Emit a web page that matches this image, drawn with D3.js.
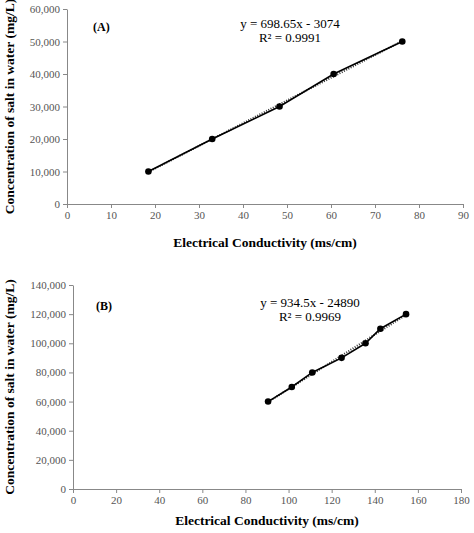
<!DOCTYPE html>
<html>
<head>
<meta charset="utf-8">
<script src="https://cdn.jsdelivr.net/npm/d3@7"></script>
<style>
  body { margin: 0; background: #fff; }
</style>
</head>
<body>
<svg id="chart" width="474" height="533"></svg>
<script>
// panel A data
var ecA = [18.5, 33, 48.3, 60.6, 76.2];
var saltA = [10000, 20000, 30000, 40000, 50000];
var fitA = { slope: 698.65, intercept: -3074, r2: "0.9991" };

// panel B data
var ecB = [90.5, 101.5, 111, 124.6, 135.7, 142.6, 154.5];
var saltB = [60000, 70000, 80000, 90000, 100000, 110000, 120000];
var fitB = { slope: 934.5, intercept: -24890, r2: "0.9969" };

var FONT = "'Liberation Serif', 'Times New Roman', 'DejaVu Serif', serif";
var svg = d3.select('#chart');

function panel(cfg) {
  var x = d3.scaleLinear().domain([0, cfg.xMax]).range([cfg.left, cfg.right]);
  var y = d3.scaleLinear().domain([0, cfg.yMax]).range([cfg.bottom, cfg.top]);
  var g = svg.append('g');

  var xAxis = g.append('g')
    .attr('transform', 'translate(0,' + cfg.bottom + ')')
    .call(d3.axisBottom(x).tickValues(d3.range(0, cfg.xMax + 1, cfg.xStep)).tickSize(4).tickSizeOuter(0));
  var yAxis = g.append('g')
    .attr('transform', 'translate(' + cfg.left + ',0)')
    .call(d3.axisLeft(y).tickValues(d3.range(0, cfg.yMax + 1, cfg.yStep)).tickFormat(d3.format(',')).tickSize(4).tickSizeOuter(0));
  [xAxis, yAxis].forEach(function(a) {
    a.attr('font-family', null);
    a.selectAll('path, line').attr('stroke', '#888');
    a.selectAll('text').attr('fill', '#555').style('font-size', '11px').style('font-family', FONT);
  });

  // trend line (dotted)
  var x0 = d3.min(cfg.xs), x1 = d3.max(cfg.xs);
  g.append('line')
    .attr('x1', x(x0)).attr('y1', y(cfg.fit.slope * x0 + cfg.fit.intercept))
    .attr('x2', x(x1)).attr('y2', y(cfg.fit.slope * x1 + cfg.fit.intercept))
    .attr('stroke', '#333').attr('stroke-width', 2).attr('stroke-dasharray', '1,1.5');

  var pts = cfg.xs.map(function(d, i) { return [d, cfg.ys[i]]; });
  g.append('path')
    .datum(pts)
    .attr('fill', 'none').attr('stroke', '#000').attr('stroke-width', 1.6)
    .attr('d', d3.line().x(function(d) { return x(d[0]); }).y(function(d) { return y(d[1]); }));
  g.selectAll('circle.pt').data(pts).enter().append('circle')
    .attr('cx', function(d) { return x(d[0]); })
    .attr('cy', function(d) { return y(d[1]); })
    .attr('r', 3.3).attr('fill', '#000');

  function txt() { return g.append('text').style('font-family', FONT); }
  txt().attr('x', cfg.tagX).attr('y', cfg.tagY)
    .style('font-size', '12px').style('font-weight', 'bold').text(cfg.tag);
  txt().attr('x', cfg.eqX).attr('y', cfg.eqY).attr('text-anchor', 'middle')
    .style('font-size', '13px').text(cfg.eq);
  txt().attr('x', cfg.eqX).attr('y', cfg.eqY + 14).attr('text-anchor', 'middle')
    .style('font-size', '13px').text('R² = ' + cfg.fit.r2);

  txt().attr('x', (cfg.left + cfg.right) / 2).attr('y', cfg.xlabY)
    .attr('text-anchor', 'middle').style('font-size', '13.5px').style('font-weight', 'bold')
    .text('Electrical Conductivity (ms/cm)');
  txt()
    .attr('transform', 'translate(' + cfg.ylabX + ',' + (cfg.top + cfg.bottom) / 2 + ') rotate(-90)')
    .attr('text-anchor', 'middle').style('font-size', '13.5px').style('font-weight', 'bold')
    .text('Concentration of salt in water (mg/L)');
}

panel({
  xs: ecA, ys: saltA, fit: fitA, xMax: 90, xStep: 10, yMax: 60000, yStep: 10000,
  left: 67, right: 463, top: 9, bottom: 204,
  tag: '(A)', tagX: 93, tagY: 31, eq: 'y = 698.65x - 3074', eqX: 290, eqY: 28,
  xlabY: 247, ylabX: 14
});
panel({
  xs: ecB, ys: saltB, fit: fitB, xMax: 180, xStep: 20, yMax: 140000, yStep: 20000,
  left: 73, right: 461, top: 285, bottom: 489,
  tag: '(B)', tagX: 96, tagY: 310, eq: 'y = 934.5x - 24890', eqX: 310, eqY: 307,
  xlabY: 525, ylabX: 14
});
</script>
</body>
</html>
